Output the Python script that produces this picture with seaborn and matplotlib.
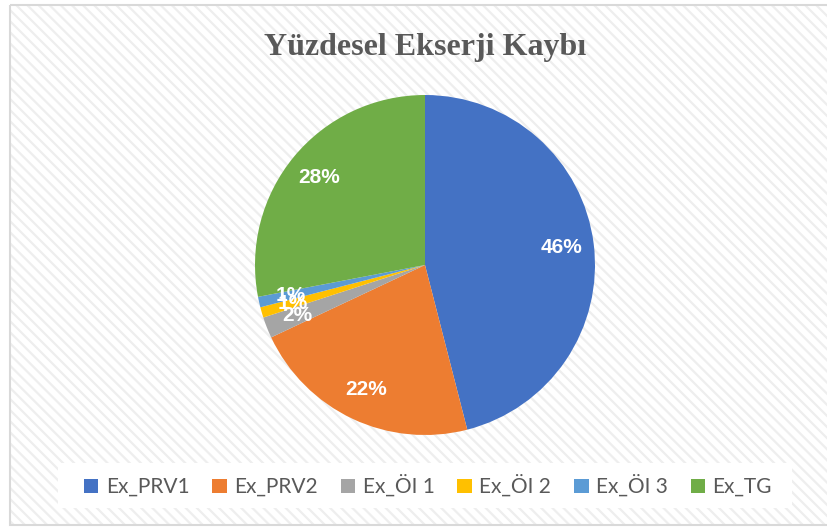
import matplotlib
matplotlib.use('Agg')
import matplotlib.pyplot as plt
import seaborn as sns
from matplotlib.patches import Rectangle

# veriler
etiketler = ['Ex_PRV1', 'Ex_PRV2', 'Ex_ÖI 1', 'Ex_ÖI 2', 'Ex_ÖI 3', 'Ex_TG']
yuzdeler = [46, 22, 2, 1, 1, 28]
renkler = ['#4472C4', '#ED7D31', '#A5A5A5', '#FFC000', '#5B9BD5', '#70AD47']
baslik = 'Yüzdesel Ekserji Kaybı'

sns.set_theme(style='white')
plt.rcParams['font.family'] = ['Lato', 'DejaVu Sans']
plt.rcParams['hatch.linewidth'] = 1.6

W, H = 828, 527
fig = plt.figure(figsize=(W / 100, H / 100), dpi=100)
fig.patch.set_facecolor('white')

# arka plan: çizgili alan + kenarlık + lejant kutusu
bg = fig.add_axes([0, 0, 1, 1], zorder=0)
bg.set_xlim(0, W)
bg.set_ylim(H, 0)
bg.axis('off')
bg.add_patch(Rectangle((10, 5), W, 520, facecolor='white', edgecolor='#eeeeee',
                       hatch='\\\\\\', linewidth=0))
bg.add_patch(Rectangle((10, 5), W, 520, facecolor='none', edgecolor='#d9d9d9',
                       linewidth=1.5))
bg.add_patch(Rectangle((58, 463), 734, 45, facecolor='white', edgecolor='none'))

# pasta grafiği
cx, cy, r = 425, 265, 170
ax = fig.add_axes([(cx - r) / W, (H - cy - r) / H, 2 * r / W, 2 * r / H], zorder=1)
ax.patch.set_alpha(0)
wedges, texts, autotexts = ax.pie(
    yuzdeler, colors=renkler, startangle=90, counterclock=False,
    autopct='%1.0f%%', pctdistance=0.81,
    wedgeprops=dict(linewidth=0))
for t in autotexts:
    t.set_color('white')
    t.set_fontsize(15)
    t.set_family(['Liberation Sans', 'DejaVu Sans'])
    t.set_fontweight('bold')
ax.set_xlim(-1, 1)
ax.set_ylim(-1, 1)

fig.text(cx / W, 1 - 47 / H, baslik, ha='center', va='center',
         fontsize=23, fontweight='bold', color='#595959',
         family=['Liberation Serif', 'DejaVu Serif'])

leg = fig.legend(wedges, etiketler, loc='center', bbox_to_anchor=(428 / W, 1 - 486 / H),
                 ncol=6, frameon=False, fontsize=15, handlelength=0.7, handleheight=0.7,
                 handletextpad=0.35, columnspacing=1.1, labelcolor='#595959')

fig.savefig('out.png', dpi=100)
